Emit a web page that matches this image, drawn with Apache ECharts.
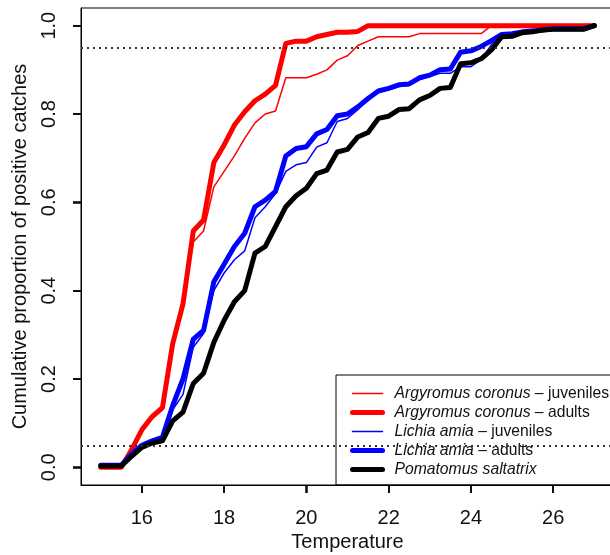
<!DOCTYPE html>
<html>
<head>
<meta charset="utf-8">
<script src="https://cdn.jsdelivr.net/npm/echarts@6/dist/echarts.min.js"></script>
<style>
  html, body { margin: 0; padding: 0; background: #fff; }
  #chart { width: 610px; height: 555px; }
</style>
</head>
<body>
<div id="chart"></div>
<script>
// temperatures (0.25 degree steps)
const temps = [15, 15.25, 15.5, 15.75, 16, 16.25, 16.5, 16.75, 17, 17.25, 17.5, 17.75,
  18, 18.25, 18.5, 18.75, 19, 19.25, 19.5, 19.75, 20, 20.25, 20.5, 20.75,
  21, 21.25, 21.5, 21.75, 22, 22.25, 22.5, 22.75, 23, 23.25, 23.5, 23.75,
  24, 24.25, 24.5, 24.75, 25, 25.25, 25.5, 25.75, 26, 26.25, 26.5, 26.75, 27];

const argyJuv = [0, 0, 0, 0.035, 0.08, 0.11, 0.13, 0.27, 0.37, 0.51, 0.535, 0.635,
  0.67, 0.705, 0.745, 0.78, 0.8, 0.807, 0.882, 0.882, 0.882, 0.89, 0.9, 0.922,
  0.932, 0.955, 0.965, 0.975, 0.975, 0.975, 0.975, 0.982, 0.982, 0.982, 0.982, 0.982,
  0.982, 0.982, 1, 1, 1, 1, 1, 1, 1, 1, 1, 1, 1];

const argyAdu = [0, 0, 0, 0.04, 0.085, 0.115, 0.135, 0.28, 0.37, 0.535, 0.56, 0.69,
  0.73, 0.775, 0.805, 0.83, 0.845, 0.865, 0.96, 0.965, 0.965, 0.975, 0.98, 0.985,
  0.985, 0.987, 1, 1, 1, 1, 1, 1, 1, 1, 1, 1,
  1, 1, 1, 1, 1, 1, 1, 1, 1, 1, 1, 1, 1];

const lichJuv = [0.005, 0.005, 0.005, 0.03, 0.05, 0.06, 0.066, 0.13, 0.165, 0.272, 0.303, 0.4,
  0.44, 0.47, 0.49, 0.565, 0.59, 0.62, 0.67, 0.685, 0.69, 0.725, 0.735, 0.783,
  0.79, 0.81, 0.832, 0.85, 0.855, 0.862, 0.865, 0.878, 0.885, 0.892, 0.892, 0.907,
  0.907, 0.923, 0.957, 0.98, 0.982, 0.986, 0.988, 0.99, 0.993, 0.993, 0.993, 0.993, 1];

const lichAdu = [0.005, 0.005, 0.005, 0.03, 0.05, 0.06, 0.068, 0.14, 0.2, 0.29, 0.31, 0.42,
  0.46, 0.5, 0.53, 0.59, 0.605, 0.625, 0.705, 0.722, 0.726, 0.755, 0.765, 0.796,
  0.8, 0.816, 0.835, 0.852, 0.858, 0.866, 0.868, 0.882, 0.888, 0.9, 0.902, 0.94,
  0.943, 0.953, 0.966, 0.98, 0.982, 0.986, 0.988, 0.99, 0.993, 0.993, 0.993, 0.993, 1];

const pomat = [0.003, 0.003, 0.003, 0.025, 0.045, 0.055, 0.06, 0.105, 0.125, 0.19, 0.213, 0.283,
  0.333, 0.375, 0.4, 0.485, 0.5, 0.545, 0.59, 0.615, 0.632, 0.665, 0.673, 0.714,
  0.72, 0.748, 0.758, 0.79, 0.795, 0.81, 0.812, 0.832, 0.842, 0.858, 0.86, 0.914,
  0.916, 0.925, 0.945, 0.975, 0.976, 0.984, 0.986, 0.99, 0.992, 0.992, 0.992, 0.992, 1];

const xTicks = [16, 18, 20, 22, 24, 26];
const yTicks = [0, 0.2, 0.4, 0.6, 0.8, 1.0];
const refLines = [0.05, 0.95];

const X_MIN = 14.52, X_MAX = 27.48, Y_MIN = -0.04, Y_MAX = 1.04;
const FONT = 'Liberation Sans, Arial, sans-serif';

function pairs(vals) {
  return temps.map((t, i) => [t, vals[i]]);
}

function makeSeries(name, vals, color, width) {
  return {
    name: name,
    type: 'line',
    data: pairs(vals),
    symbol: 'none',
    showSymbol: false,
    animation: false,
    lineStyle: { color: color, width: width, cap: 'round', join: 'round' },
    itemStyle: { color: color },
    emphasis: { disabled: true }
  };
}

let chart = echarts.init(document.getElementById('chart'));

let series = [
  makeSeries('Argyromus coronus – juveniles', argyJuv, '#ff0000', 1.5),
  makeSeries('Argyromus coronus – adults', argyAdu, '#ff0000', 5),
  makeSeries('Lichia amia – juveniles', lichJuv, '#0000ff', 1.5),
  makeSeries('Lichia amia – adults', lichAdu, '#0000ff', 5),
  makeSeries('Pomatomus saltatrix', pomat, '#000000', 5)
];

// dotted reference lines at 5% and 95%
series[0].markLine = {
  silent: true,
  symbol: 'none',
  label: { show: false },
  lineStyle: { color: '#333', type: [2, 4], width: 2 },
  data: refLines.map(v => ({ yAxis: v }))
};

let option = {
  animation: false,
  backgroundColor: '#fff',
  grid: {
    left: 81, top: 8, width: 533, height: 477,
    outerBoundsMode: 'none',
    containLabel: false,
    show: true, borderColor: '#000', borderWidth: 1,
    backgroundColor: 'transparent'
  },
  xAxis: {
    type: 'value',
    position: 'bottom',
    min: X_MIN, max: X_MAX,
    name: 'Temperature',
    nameLocation: 'middle',
    nameGap: 47,
    nameTextStyle: { fontFamily: FONT, fontSize: 20, color: '#111' },
    axisLine: { show: true, onZero: false, lineStyle: { color: '#000', width: 1 } },
    axisTick: { show: true, inside: false, length: 8, lineStyle: { color: '#000', width: 1.5 }, customValues: xTicks },
    axisLabel: { fontFamily: FONT, fontSize: 20, color: '#111', margin: 23, customValues: xTicks },
    splitLine: { show: false }
  },
  yAxis: {
    type: 'value',
    position: 'left',
    min: Y_MIN, max: Y_MAX,
    name: 'Cumulative proportion of positive catches',
    nameLocation: 'middle',
    nameGap: 51,
    nameRotate: 90,
    nameTextStyle: { fontFamily: FONT, fontSize: 20, color: '#111' },
    axisLine: { show: true, onZero: false, lineStyle: { color: '#000', width: 1 } },
    axisTick: { show: true, inside: false, length: 8, lineStyle: { color: '#000', width: 1.5 }, customValues: yTicks },
    axisLabel: {
      fontFamily: FONT, fontSize: 20, color: '#111', margin: 22, rotate: 90,
      customValues: yTicks,
      formatter: v => v.toFixed(1)
    },
    splitLine: { show: false }
  },
  legend: {
    orient: 'vertical',
    left: 350, top: 384,
    padding: 0,
    itemWidth: 30, itemHeight: 14, itemGap: 0,
    selectedMode: false,
    itemStyle: { opacity: 0 },
    data: series.map(s => ({
      name: s.name,
      lineStyle: { width: s.lineStyle.width === 5 ? 5 : 1.5, cap: 'round' }
    })),
    formatter: function (name) {
      let parts = name.split(' – ');
      if (parts.length > 1) return '{i|' + parts[0] + '} – ' + parts[1];
      return '{i|' + name + '}';
    },
    textStyle: {
      fontFamily: FONT, fontSize: 15.7, color: '#111', lineHeight: 19,
      padding: [0, 0, 0, 7],
      rich: { i: { fontStyle: 'italic', fontFamily: FONT, fontSize: 15.7, color: '#111', lineHeight: 19 } }
    }
  },
  series: series
};

chart.setOption(option);

// legend frame + tick marks placed through the chart's own scales
let graphics = [{
  type: 'rect',
  shape: { x: 336, y: 375, width: 300, height: 110 },
  style: { fill: 'transparent', stroke: '#000', lineWidth: 1 },
  z: 0
}];
xTicks.forEach(t => {
  let p = chart.convertToPixel({ gridIndex: 0 }, [t, Y_MIN]);
  graphics.push({
    type: 'rect', silent: true, z: 50,
    shape: { x: Math.round(p[0]) - 0.75, y: Math.round(p[1]), width: 1.5, height: 8 },
    style: { fill: '#000' }
  });
});
yTicks.forEach(v => {
  let p = chart.convertToPixel({ gridIndex: 0 }, [X_MIN, v]);
  graphics.push({
    type: 'rect', silent: true, z: 50,
    shape: { x: Math.round(p[0]) - 8, y: Math.round(p[1]) - 0.75, width: 8, height: 1.5 },
    style: { fill: '#000' }
  });
});
chart.setOption({ graphic: graphics });
</script>
</body>
</html>
